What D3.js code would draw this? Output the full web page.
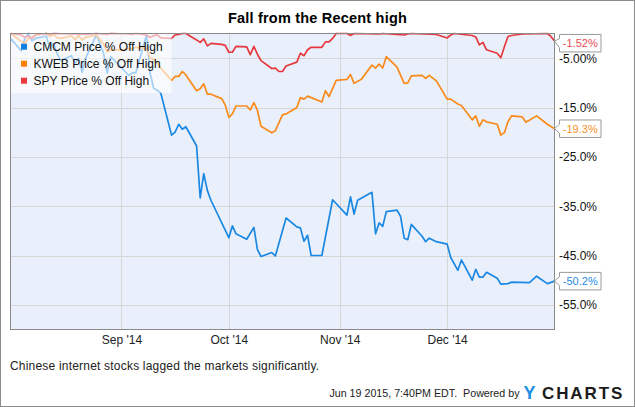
<!DOCTYPE html>
<html>
<head>
<meta charset="utf-8">
<script src="https://cdn.jsdelivr.net/npm/d3@7"></script>
<style>
  html, body { margin: 0; padding: 0; background: #fff; }
  svg { display: block; font-family: "Liberation Sans", Arial, sans-serif; }
</style>
</head>
<body>
<svg id="chart" width="635" height="407"></svg>
<script>
// ---------------- DATA ----------------
const seriesNames = ["CMCM Price % Off High", "KWEB Price % Off High", "SPY Price % Off High"];

const cmcmDates = ["2014-08-01","2014-08-04","2014-08-05","2014-08-06","2014-08-07","2014-08-08","2014-08-11","2014-08-12","2014-08-13","2014-08-14","2014-08-15","2014-08-18","2014-08-19","2014-08-20","2014-08-21","2014-08-22","2014-08-25","2014-08-26","2014-08-27","2014-08-28","2014-08-29","2014-09-02","2014-09-03","2014-09-04","2014-09-05","2014-09-08","2014-09-09","2014-09-10","2014-09-11","2014-09-12","2014-09-15","2014-09-16","2014-09-17","2014-09-18","2014-09-19","2014-09-22","2014-09-23","2014-09-24","2014-09-25","2014-09-26","2014-10-01","2014-10-02","2014-10-03","2014-10-06","2014-10-08","2014-10-09","2014-10-10","2014-10-13","2014-10-14","2014-10-17","2014-10-20","2014-10-21","2014-10-22","2014-10-23","2014-10-24","2014-10-27","2014-10-30","2014-11-03","2014-11-04","2014-11-05","2014-11-06","2014-11-10","2014-11-11","2014-11-12","2014-11-13","2014-11-14","2014-11-17","2014-11-18","2014-11-19","2014-11-20","2014-11-21","2014-11-24","2014-11-25","2014-11-26","2014-11-28","2014-12-01","2014-12-02","2014-12-04","2014-12-05","2014-12-08","2014-12-09","2014-12-10","2014-12-11","2014-12-12","2014-12-15","2014-12-16","2014-12-18","2014-12-19","2014-12-24","2014-12-26","2014-12-29","2014-12-31"];
const cmcmValues = [-1.0,-3.5,-1.0,0,-1.5,-1.0,-0.5,-3.0,-2.0,-4.0,-5.5,-4.5,-6.0,-5.0,-7.9,-5.0,-0.3,-2.0,-4.0,-8.0,-4.7,-7.7,-8.5,-8.0,-8.0,-0.3,-8.0,-11.1,-11.5,-12.1,-20.6,-20.0,-18.4,-19.4,-18.9,-22.8,-33.3,-28.4,-31.8,-33.8,-41.4,-39.0,-40.6,-41.7,-39.3,-43.8,-45.2,-44.4,-45.1,-37.4,-39.2,-39.4,-42.1,-40.9,-45.0,-45.0,-33.7,-36.8,-33.1,-36.6,-33.8,-32.2,-40.6,-38.4,-39.1,-36.1,-35.8,-37.1,-41.5,-41.8,-38.7,-41.1,-42.2,-41.5,-42.2,-42.7,-45.4,-48.0,-45.9,-50.0,-47.8,-49.4,-49.4,-48.4,-49.6,-50.8,-50.7,-50.4,-50.5,-49.2,-50.7,-50.2];

const kwebDates = ["2014-08-01","2014-08-04","2014-08-05","2014-08-06","2014-08-07","2014-08-08","2014-08-11","2014-08-12","2014-08-13","2014-08-14","2014-08-15","2014-08-18","2014-08-19","2014-08-20","2014-08-21","2014-08-22","2014-08-25","2014-08-26","2014-08-27","2014-08-28","2014-08-29","2014-09-02","2014-09-03","2014-09-04","2014-09-05","2014-09-08","2014-09-09","2014-09-10","2014-09-11","2014-09-12","2014-09-15","2014-09-16","2014-09-17","2014-09-18","2014-09-19","2014-09-22","2014-09-23","2014-09-24","2014-09-25","2014-09-26","2014-09-29","2014-09-30","2014-10-01","2014-10-02","2014-10-03","2014-10-06","2014-10-07","2014-10-08","2014-10-09","2014-10-10","2014-10-13","2014-10-14","2014-10-16","2014-10-17","2014-10-20","2014-10-21","2014-10-22","2014-10-23","2014-10-27","2014-10-28","2014-10-29","2014-10-31","2014-11-03","2014-11-04","2014-11-05","2014-11-07","2014-11-10","2014-11-11","2014-11-12","2014-11-13","2014-11-14","2014-11-17","2014-11-19","2014-11-20","2014-11-21","2014-11-24","2014-11-25","2014-11-26","2014-11-28","2014-12-01","2014-12-02","2014-12-04","2014-12-05","2014-12-08","2014-12-09","2014-12-10","2014-12-11","2014-12-12","2014-12-15","2014-12-16","2014-12-17","2014-12-18","2014-12-19","2014-12-22","2014-12-23","2014-12-26","2014-12-29","2014-12-31"];
const kwebValues = [0,-1.6,-2.0,-1.0,-0.8,-0.3,0,-0.6,-0.2,-0.8,-1.0,-0.5,-1.2,-0.4,-1.3,-0.8,-0.3,-1.2,-2.2,-3.7,-3.3,-3.3,-3.0,-3.1,-2.8,-3.0,-5.0,-5.2,-6.0,-7.0,-9.5,-8.7,-8.7,-7.7,-8.4,-11.6,-11.2,-10.2,-12.3,-12.3,-13.2,-14.5,-17.0,-16.3,-14.7,-14.7,-15.5,-14.0,-15.6,-18.8,-20.1,-19.7,-16.5,-16.3,-15.0,-13.0,-13.3,-12.7,-13.9,-11.6,-12.8,-9.5,-9.3,-8.3,-10.1,-9.3,-6.4,-7.0,-6.2,-7.0,-4.7,-6.8,-10.1,-10.0,-8.6,-8.5,-9.1,-8.5,-9.6,-13.3,-13.3,-14.3,-14.6,-17.5,-16.7,-18.8,-17.5,-17.9,-18.4,-20.6,-20.1,-17.9,-16.7,-16.9,-18.0,-16.7,-18.4,-19.3];

const spyDates = ["2014-08-01","2014-08-04","2014-08-05","2014-08-06","2014-08-07","2014-08-08","2014-08-11","2014-08-12","2014-08-13","2014-08-22","2014-08-25","2014-08-28","2014-08-29","2014-09-03","2014-09-04","2014-09-05","2014-09-08","2014-09-09","2014-09-10","2014-09-11","2014-09-12","2014-09-15","2014-09-16","2014-09-17","2014-09-18","2014-09-19","2014-09-22","2014-09-23","2014-09-24","2014-09-25","2014-09-26","2014-09-29","2014-09-30","2014-10-01","2014-10-02","2014-10-03","2014-10-06","2014-10-07","2014-10-08","2014-10-09","2014-10-10","2014-10-13","2014-10-14","2014-10-15","2014-10-16","2014-10-17","2014-10-20","2014-10-21","2014-10-22","2014-10-23","2014-10-24","2014-10-27","2014-10-28","2014-10-29","2014-10-30","2014-10-31","2014-11-03","2014-11-04","2014-11-05","2014-11-12","2014-11-13","2014-11-19","2014-11-20","2014-11-21","2014-11-28","2014-12-01","2014-12-02","2014-12-03","2014-12-08","2014-12-09","2014-12-10","2014-12-11","2014-12-12","2014-12-15","2014-12-16","2014-12-17","2014-12-18","2014-12-19","2014-12-22","2014-12-29","2014-12-30","2014-12-31"];
const spyValues = [0,-0.3,-0.8,-0.5,-1.0,-0.3,0,-0.2,0,-0.2,0,-0.2,0,-0.1,-0.2,0,-0.3,-0.8,-0.4,-0.3,-0.9,-1.0,-0.3,-0.2,0,0,-1.3,-1.8,-1.1,-2.5,-2.0,-2.2,-2.4,-3.8,-3.8,-2.6,-2.7,-4.3,-2.6,-4.2,-5.5,-7.1,-7.0,-7.7,-7.7,-6.6,-5.8,-4.0,-4.5,-3.3,-2.8,-2.8,-1.7,-1.7,-1.0,0,0,-0.4,0,-0.1,0,-0.3,-0.1,0,-0.2,-0.9,-0.3,0,-0.4,-0.7,-2.3,-1.8,-3.3,-4.0,-4.9,-2.7,-0.6,-0.4,-0.1,0,-0.6,-1.52];

const lineColors = ["#1a88e3", "#f98a1b", "#e6393f"];
const legendColors = ["#0b7fe0", "#ff7f00", "#e83a3d"];
const calloutColors = ["#2a8ae6", "#f7912a", "#e84a4f"];
const calloutLabels = ["-50.2%", "-19.3%", "-1.52%"];

const xTickDates = ["2014-09-01", "2014-10-01", "2014-11-01", "2014-12-01"];
const xTickLabels = ["Sep '14", "Oct '14", "Nov '14", "Dec '14"];
const yTickValues = [-5, -15, -25, -35, -45, -55];
const yTickLabels = ["-5.00%", "-15.0%", "-25.0%", "-35.0%", "-45.0%", "-55.0%"];
const xDomain = ["2014-08-01", "2014-12-31"];
const yDomain = [-60, 0];

const titleText = "Fall from the Recent high";
const captionText = "Chinese internet stocks lagged the markets significantly.";
const footerText = "Jun 19 2015, 7:40PM EDT.  Powered by";

// ---------------- DRAW ----------------
const parse = d3.timeParse("%Y-%m-%d");
const svg = d3.select("#chart");
const W = 635, H = 407;
const plot = { left: 10.5, top: 33.5, right: 554.5, bottom: 329.5 };

const x = d3.scaleTime().domain(xDomain.map(parse)).range([plot.left, plot.right]);
const y = d3.scaleLinear().domain(yDomain).range([plot.bottom, plot.top]);

// outer border
svg.append("rect").attr("x", 0.5).attr("y", 0.5).attr("width", W - 1).attr("height", H - 1)
  .attr("fill", "#fff").attr("stroke", "#8c8c8c");

// title
svg.append("text").attr("x", 317.5).attr("y", 22.5).attr("text-anchor", "middle")
  .style("font-size", "14.5px").style("font-weight", "bold").style("letter-spacing", "0.2px")
  .attr("fill", "#000").text(titleText);

// plot background
svg.append("rect").attr("x", plot.left).attr("y", plot.top)
  .attr("width", plot.right - plot.left).attr("height", plot.bottom - plot.top)
  .attr("fill", "#eaf0fb");

// gridlines
const xTicks = xTickDates.map(parse);
svg.append("g").selectAll("line").data(yTickValues).join("line")
  .attr("x1", plot.left).attr("x2", plot.right)
  .attr("y1", d => Math.round(y(d)) + 0.5).attr("y2", d => Math.round(y(d)) + 0.5)
  .attr("stroke", "#d6d6d6").attr("stroke-width", 1);
svg.append("g").selectAll("line").data(xTicks).join("line")
  .attr("x1", d => Math.round(x(d)) + 0.5).attr("x2", d => Math.round(x(d)) + 0.5)
  .attr("y1", plot.top).attr("y2", plot.bottom)
  .attr("stroke", "#d6d6d6").attr("stroke-width", 1);

// lines
const series = [
  { dates: cmcmDates, values: cmcmValues },
  { dates: kwebDates, values: kwebValues },
  { dates: spyDates, values: spyValues }
].map((s, i) => ({
  name: seriesNames[i],
  color: lineColors[i],
  points: s.dates.map((d, j) => ({ date: parse(d), value: s.values[j] }))
}));

const line = d3.line().x(d => x(d.date)).y(d => y(d.value));
svg.append("clipPath").attr("id", "clip").append("rect")
  .attr("x", plot.left).attr("y", plot.top - 1.5)
  .attr("width", plot.right - plot.left + 1).attr("height", plot.bottom - plot.top + 2);
const lineG = svg.append("g").attr("clip-path", "url(#clip)");
series.forEach(s => {
  lineG.append("path").datum(s.points).attr("d", line)
    .attr("fill", "none").attr("stroke", s.color).attr("stroke-width", 1.7)
    .attr("stroke-linejoin", "round");
});

// plot border
svg.append("rect").attr("x", plot.left).attr("y", plot.top)
  .attr("width", plot.right - plot.left).attr("height", plot.bottom - plot.top)
  .attr("fill", "none").attr("stroke", "#8a8a8a").attr("stroke-width", 1);

// axes
const xAxis = d3.axisBottom(x).tickValues(xTicks).tickFormat((d, i) => xTickLabels[i])
  .tickSize(0).tickPadding(6);
const gx = svg.append("g").attr("transform", `translate(0,${plot.bottom})`).call(xAxis);
gx.select(".domain").remove();
gx.selectAll("text").style("font-size", "12px").style("font-family", "'Liberation Sans', Arial, sans-serif").attr("fill", "#222");

const yAxis = d3.axisRight(y).tickValues(yTickValues).tickFormat((d, i) => yTickLabels[i])
  .tickSize(0).tickPadding(4.5);
const gy = svg.append("g").attr("transform", `translate(${plot.right},0)`).call(yAxis);
gy.select(".domain").remove();
gy.selectAll("text").style("font-size", "12px").style("font-family", "'Liberation Sans', Arial, sans-serif").attr("fill", "#111");

// legend
const legend = svg.append("g");
legend.append("rect").attr("x", plot.left + 0.5).attr("y", plot.top + 0.5)
  .attr("width", 160.5).attr("height", 59)
  .attr("fill", "#fff").attr("fill-opacity", 0.6);
seriesNames.forEach((n, i) => {
  const cy = 46.7 + i * 17;
  legend.append("rect").attr("x", 21).attr("y", cy - 3).attr("width", 6).attr("height", 6)
    .attr("fill", legendColors[i]);
  legend.append("text").attr("x", 33.5).attr("y", cy + 4.3)
    .style("font-size", "12px").attr("fill", "#111").text(n);
});

// callouts for last values
series.forEach((s, i) => {
  const last = s.points[s.points.length - 1];
  const ty = y(last.value);
  const cy = Math.max(ty, plot.top + 9.7);
  const bx = 559.5, bw = 41.5, bh = 17.5;
  const tipX = plot.right;
  const p = d3.path();
  p.moveTo(tipX, ty);
  p.lineTo(bx, cy - 4.5);
  p.lineTo(bx, cy - bh / 2);
  p.lineTo(bx + bw, cy - bh / 2);
  p.lineTo(bx + bw, cy + bh / 2);
  p.lineTo(bx, cy + bh / 2);
  p.lineTo(bx, cy + 4.5);
  p.closePath();
  svg.append("path").attr("d", p.toString()).attr("fill", "#fff")
    .attr("stroke", "#9a9a9a").attr("stroke-width", 1);
  svg.append("text").attr("x", bx + bw / 2).attr("y", cy + 4)
    .attr("text-anchor", "middle").style("font-size", "11px")
    .attr("fill", calloutColors[i]).text(calloutLabels[i]);
});

// caption
svg.append("text").attr("x", 10).attr("y", 369.5).style("font-size", "12px")
  .style("letter-spacing", "0.2px").attr("fill", "#222").text(captionText);

// footer
svg.append("text").attr("x", 519.5).attr("y", 396.5).attr("text-anchor", "end")
  .style("font-size", "10.7px").attr("fill", "#222").attr("xml:space", "preserve").text(footerText);
svg.append("text").attr("x", 523.5).attr("y", 399.3)
  .style("font-size", "18px").style("font-weight", "900").attr("fill", "#1e8fe3").text("Y");
svg.append("text").attr("x", 542).attr("y", 399.3)
  .style("font-size", "17px").style("font-weight", "bold").style("letter-spacing", "1.9px")
  .attr("fill", "#1b1b1b").text("CHARTS");
</script>
</body>
</html>
